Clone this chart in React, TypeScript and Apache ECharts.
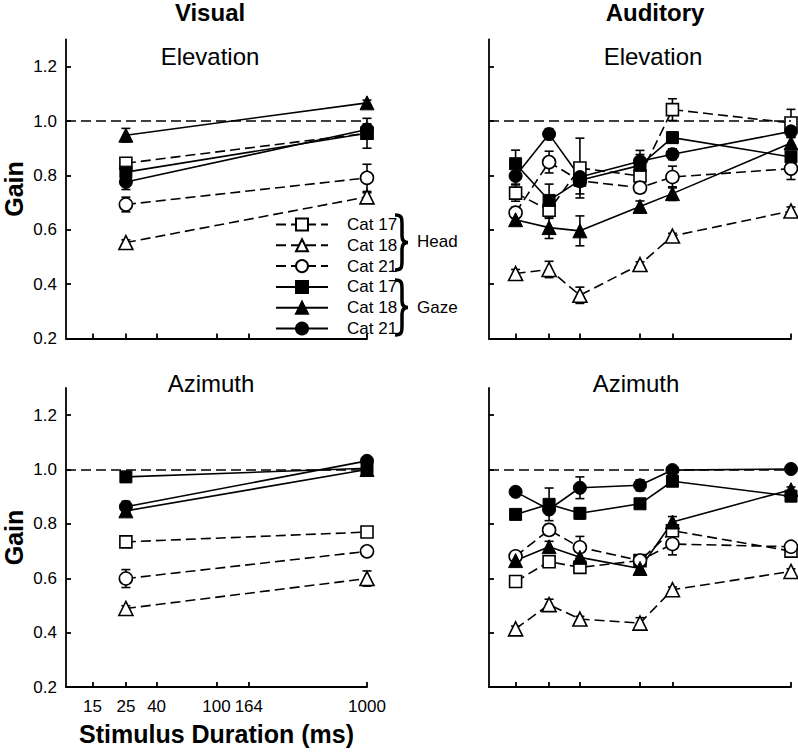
import React, { useEffect, useRef } from 'react';
import * as echarts from 'echarts';

// ---------- data ----------
const VISUAL_DURATIONS = [25, 1000];
const AUDITORY_DURATIONS = [15, 25, 40, 100, 164, 1000];
const X_TICKS = [15, 25, 40, 100, 164, 1000];
const Y_TICKS = [0.2, 0.4, 0.6, 0.8, 1.0, 1.2];
const GROUP_NAMES = ['Head Cat 17', 'Head Cat 18', 'Head Cat 21', 'Gaze Cat 17', 'Gaze Cat 18', 'Gaze Cat 21'];

// Visual - Elevation
const visElevHead17 = [0.845, 0.955];
const visElevHead18 = [0.553, 0.721];
const visElevHead21 = [0.693, 0.791];
const visElevGaze17 = [0.812, 0.955];
const visElevGaze18 = [0.948, 1.067];
const visElevGaze21 = [0.776, 0.969];
const visElevHead17Err = [0.01, 0.01];
const visElevHead18Err = [0.01, 0.015];
const visElevHead21Err = [0.027, 0.05];
const visElevGaze17Err = [0.02, 0.055];
const visElevGaze18Err = [0.025, 0.01];
const visElevGaze21Err = [0.028, 0.02];

// Visual - Azimuth
const visAzHead17 = [0.734, 0.77];
const visAzHead18 = [0.489, 0.599];
const visAzHead21 = [0.599, 0.699];
const visAzGaze17 = [0.973, 1.005];
const visAzGaze18 = [0.848, 1.0];
const visAzGaze21 = [0.863, 1.032];
const visAzHead17Err = [0.01, 0.01];
const visAzHead18Err = [0.01, 0.028];
const visAzHead21Err = [0.033, 0.01];
const visAzGaze17Err = [0.018, 0.01];
const visAzGaze18Err = [0.02, 0.01];
const visAzGaze21Err = [0.02, 0.01];

// Auditory - Elevation
const audElevHead17 = [0.735, 0.672, 0.827, 0.798, 1.042, 0.993];
const audElevHead18 = [0.439, 0.454, 0.359, 0.472, 0.577, 0.669];
const audElevHead21 = [0.663, 0.849, 0.78, 0.755, 0.794, 0.825];
const audElevGaze17 = [0.843, 0.708, 0.782, 0.837, 0.939, 0.868];
const audElevGaze18 = [0.637, 0.608, 0.596, 0.686, 0.733, 0.919];
const audElevGaze21 = [0.798, 0.952, 0.794, 0.852, 0.878, 0.962];
const audElevHead17Err = [0.03, 0.03, 0.11, 0.02, 0.04, 0.05];
const audElevHead18Err = [0.015, 0.03, 0.03, 0.01, 0.01, 0.015];
const audElevHead21Err = [0.02, 0.04, 0.02, 0.02, 0.04, 0.04];
const audElevGaze17Err = [0.05, 0.06, 0.05, 0.04, 0.02, 0.02];
const audElevGaze18Err = [0.02, 0.04, 0.055, 0.02, 0.025, 0.02];
const audElevGaze21Err = [0.03, 0.02, 0.02, 0.04, 0.02, 0.02];

// Auditory - Azimuth
const audAzHead17 = [0.588, 0.661, 0.64, 0.665, 0.775, 0.7];
const audAzHead18 = [0.414, 0.503, 0.45, 0.435, 0.558, 0.625];
const audAzHead21 = [0.681, 0.778, 0.714, 0.665, 0.726, 0.716];
const audAzGaze17 = [0.835, 0.872, 0.839, 0.874, 0.957, 0.902];
const audAzGaze18 = [0.665, 0.716, 0.677, 0.636, 0.807, 0.926];
const audAzGaze21 = [0.918, 0.853, 0.933, 0.942, 0.998, 1.002];
const audAzHead17Err = [0.02, 0.015, 0.015, 0.015, 0.01, 0.01];
const audAzHead18Err = [0.01, 0.02, 0.01, 0.02, 0.01, 0.01];
const audAzHead21Err = [0.01, 0.02, 0.04, 0.02, 0.04, 0.01];
const audAzGaze17Err = [0.01, 0.06, 0.02, 0.01, 0.01, 0.01];
const audAzGaze18Err = [0.01, 0.02, 0.02, 0.01, 0.02, 0.01];
const audAzGaze21Err = [0.015, 0.015, 0.04, 0.02, 0.01, 0.01];

const FONT = 'Liberation Sans, Arial, sans-serif';

const PANELS = [
  {
    durations: VISUAL_DURATIONS,
    values: [visElevHead17, visElevHead18, visElevHead21, visElevGaze17, visElevGaze18, visElevGaze21],
    errors: [visElevHead17Err, visElevHead18Err, visElevHead21Err, visElevGaze17Err, visElevGaze18Err, visElevGaze21Err],
  },
  {
    durations: AUDITORY_DURATIONS,
    values: [audElevHead17, audElevHead18, audElevHead21, audElevGaze17, audElevGaze18, audElevGaze21],
    errors: [audElevHead17Err, audElevHead18Err, audElevHead21Err, audElevGaze17Err, audElevGaze18Err, audElevGaze21Err],
  },
  {
    durations: VISUAL_DURATIONS,
    values: [visAzHead17, visAzHead18, visAzHead21, visAzGaze17, visAzGaze18, visAzGaze21],
    errors: [visAzHead17Err, visAzHead18Err, visAzHead21Err, visAzGaze17Err, visAzGaze18Err, visAzGaze21Err],
  },
  {
    durations: AUDITORY_DURATIONS,
    values: [audAzHead17, audAzHead18, audAzHead21, audAzGaze17, audAzGaze18, audAzGaze21],
    errors: [audAzHead17Err, audAzHead18Err, audAzHead21Err, audAzGaze17Err, audAzGaze18Err, audAzGaze21Err],
  },
];

const GRIDS = [
  { left: 66, top: 39.5, width: 301, height: 299 },
  { left: 489, top: 39.5, width: 302, height: 299 },
  { left: 66, top: 388, width: 301, height: 299 },
  { left: 489, top: 388, width: 302, height: 299 },
];

const SYMBOLS = ['rect', 'triangle', 'circle'];
const SYMBOL_SIZES = [12, 14, 13];
const DASH = [10, 5];
const LW = 1.6;

let braceRegistered = false;
function registerBrace() {
  if (braceRegistered) return;
  braceRegistered = true;
  const d = 'M0 0C7 0 7 3 7 10L7 21C7 25 9 27.5 13 27.5C9 27.5 7 30 7 34L7 45C7 52 7 55 0 55';
  echarts.graphic.registerShape('brace', echarts.graphic.extendPath(d, {}) as any);
}

function buildOption(): any {
  const lx = (v: number) => Math.log10(v);
  const xTickVals = X_TICKS.map(lx);

  const xAxes = GRIDS.map((_, i) => ({
    type: 'value',
    gridIndex: i,
    min: 1,
    max: 3,
    axisLine: { show: true, lineStyle: { color: '#000', width: 1.8 } },
    axisTick: { show: true, inside: true, length: 5, customValues: xTickVals, lineStyle: { color: '#000', width: 1.8 } },
    axisLabel: {
      show: i === 2,
      customValues: xTickVals,
      margin: 11,
      color: '#000',
      fontSize: 17,
      fontFamily: FONT,
      formatter: (v: number) => String(Math.round(Math.pow(10, v))),
    },
    splitLine: { show: false },
    name: i === 2 ? 'Stimulus Duration (ms)' : '',
    nameLocation: 'middle',
    nameGap: 34,
    nameTextStyle: { color: '#000', fontSize: 25, fontWeight: 'bold', fontFamily: FONT },
  }));

  const yAxes = GRIDS.map((_, i) => ({
    type: 'value',
    gridIndex: i,
    min: 0.2,
    max: 1.3,
    axisLine: { show: true, lineStyle: { color: '#000', width: 1.8 } },
    axisTick: { show: true, inside: true, length: 5, customValues: Y_TICKS, lineStyle: { color: '#000', width: 1.8 } },
    axisLabel: {
      show: i % 2 === 0,
      customValues: Y_TICKS,
      margin: 9,
      color: '#000',
      fontSize: 17,
      fontFamily: FONT,
      formatter: (v: number) => v.toFixed(1),
    },
    splitLine: { show: false },
    name: i % 2 === 0 ? 'Gain' : '',
    nameLocation: 'middle',
    nameGap: 40,
    nameTextStyle: { color: '#000', fontSize: 25, fontWeight: 'bold', fontFamily: FONT },
  }));

  const series: any[] = [];
  PANELS.forEach((panel, p) => {
    panel.values.forEach((vals, g) => {
      const isHead = g < 3;
      const c = g % 3;
      series.push({
        type: 'custom',
        name: 'err' + p + '-' + g,
        xAxisIndex: p,
        yAxisIndex: p,
        z: 1,
        silent: true,
        encode: { x: 0, y: 1 },
        data: vals.map((v, k) => [lx(panel.durations[k]), v, panel.errors[g][k]]),
        renderItem: (params: any, api: any) => {
          const x = api.value(0);
          const y = api.value(1);
          const e = api.value(2);
          if (!e) return { type: 'group', children: [] };
          const t = api.coord([x, y + e]);
          const b = api.coord([x, y - e]);
          const w = 4.5;
          const st = { stroke: '#000', lineWidth: LW };
          return {
            type: 'group',
            children: [
              { type: 'line', shape: { x1: t[0], y1: t[1], x2: b[0], y2: b[1] }, style: st },
              { type: 'line', shape: { x1: t[0] - w, y1: t[1], x2: t[0] + w, y2: t[1] }, style: st },
              { type: 'line', shape: { x1: b[0] - w, y1: b[1], x2: b[0] + w, y2: b[1] }, style: st },
            ],
          };
        },
      });
      const s: any = {
        type: 'line',
        name: GROUP_NAMES[g],
        xAxisIndex: p,
        yAxisIndex: p,
        z: 3,
        data: vals.map((v, k) => [lx(panel.durations[k]), v]),
        symbol: SYMBOLS[c],
        symbolSize: SYMBOL_SIZES[c],
        showAllSymbol: true,
        lineStyle: { color: '#000', width: LW, type: isHead ? DASH : 'solid' },
        itemStyle: isHead
          ? { color: '#fff', borderColor: '#000', borderWidth: LW, opacity: 1 }
          : { color: '#000', borderColor: '#000', borderWidth: 1, opacity: 1 },
        emphasis: { disabled: true },
        silent: true,
      };
      if (g === 0) {
        s.markLine = {
          silent: true,
          symbol: 'none',
          label: { show: false },
          lineStyle: { color: '#000', width: LW, type: DASH },
          data: [{ yAxis: 1 }],
        };
      }
      series.push(s);
    });
  });

  const txt = (text: string, x: number, y: number, size: number, bold = false, align = 'center') => ({
    type: 'text',
    x,
    y,
    silent: true,
    style: {
      text,
      fill: '#000',
      font: `${bold ? 'bold ' : ''}${size}px ${FONT}`,
      textAlign: align,
      textVerticalAlign: 'middle',
    },
  });

  const graphic: any[] = [
    txt('Visual', 210, 12, 24, true),
    txt('Auditory', 655, 12, 24, true),
    txt('Elevation', 210, 56, 24),
    txt('Elevation', 653, 56, 24),
    txt('Azimuth', 211, 383, 24),
    txt('Azimuth', 636, 383, 24),
    txt('Head', 417, 241, 17, false, 'left'),
    txt('Gaze', 417, 307, 17, false, 'left'),
    { type: 'brace', x: 395, y: 215, silent: true, style: { fill: 'none', stroke: '#000', lineWidth: 3.5 } },
    { type: 'brace', x: 395, y: 280, silent: true, style: { fill: 'none', stroke: '#000', lineWidth: 3.5 } },
  ];

  return {
    animation: false,
    backgroundColor: '#fff',
    textStyle: { fontFamily: FONT },
    grid: GRIDS.map((g) => ({ ...g, containLabel: false })),
    xAxis: xAxes,
    yAxis: yAxes,
    legend: {
      data: GROUP_NAMES,
      orient: 'vertical',
      left: 275,
      top: 216,
      padding: 0,
      itemWidth: 52,
      itemHeight: 15,
      itemGap: 3.8,
      selectedMode: false,
      formatter: (n: string) => n.replace(/^(Head|Gaze) /, ''),
      textStyle: { color: '#000', fontSize: 17, fontFamily: FONT, lineHeight: 17, padding: [0, 0, 0, 14] },
    },
    tooltip: { show: false },
    series,
    graphic,
  };
}

export default function App() {
  const ref = useRef<HTMLDivElement>(null);
  useEffect(() => {
    if (!ref.current) return;
    document.body.style.margin = '0';
    registerBrace();
    const chart = echarts.init(ref.current, undefined, { renderer: 'svg' });
    chart.setOption(buildOption());
    return () => chart.dispose();
  }, []);
  return <div ref={ref} style={{ width: 798, height: 753, background: '#fff' }} />;
}
